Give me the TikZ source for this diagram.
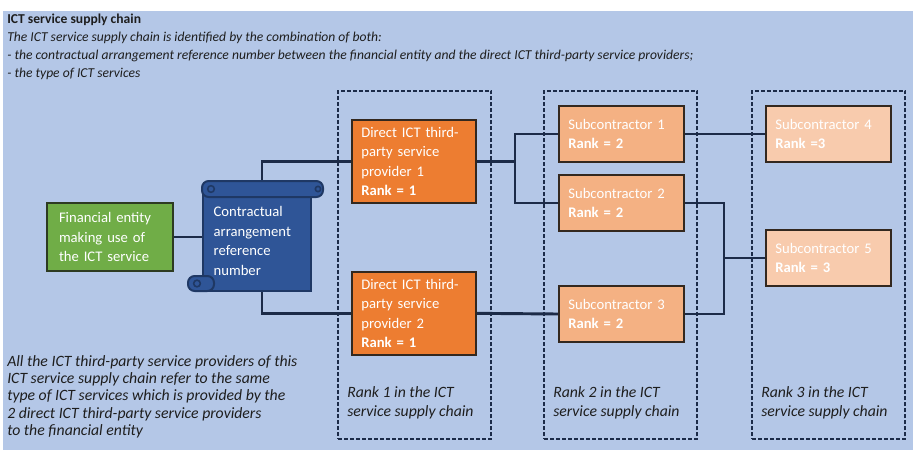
\documentclass[tikz,border=0pt]{standalone}
\usepackage{fontspec}
\setmainfont{Carlito}
\usetikzlibrary{positioning}
\definecolor{bgblue}{HTML}{B4C7E7}
\definecolor{linkcol}{HTML}{1C2B48}
\definecolor{edgecol}{HTML}{33281F}
\definecolor{finedge}{HTML}{2D3B22}
\definecolor{fingreen}{HTML}{70AD47}
\definecolor{scrollblue}{HTML}{2F5597}
\definecolor{scrolledge}{HTML}{1F3864}
\definecolor{dporange}{HTML}{ED7D31}
\definecolor{subtwo}{HTML}{F4B183}
\definecolor{subthree}{HTML}{F8CBAD}
\definecolor{inktext}{HTML}{1E1E1E}

\tikzset{
  cbox/.style={draw=edgecol, line width=1.5pt, text=white, align=left, anchor=north west,
    inner xsep=7pt, font=\fontsize{11}{14.6}\selectfont},
  dpbox/.style={cbox, fill=dporange, minimum width=93pt, minimum height=62pt, text width=79pt},
  subbox/.style={cbox, fill=#1, minimum width=94pt, minimum height=42pt, text width=80pt},
  link/.style={draw=linkcol, line width=2.2pt},
  rankbox/.style={draw=linkcol, line width=1.5pt, dash pattern=on 3pt off 1.5pt,
    minimum width=115pt, minimum height=261pt, anchor=north west},
  note/.style={text=inktext, inner sep=0pt, align=left, font=\fontsize{10.2}{13.5}\selectfont\itshape},
}

\begin{document}
\begin{tikzpicture}[x=0.75pt, y=-0.75pt]
  \useasboundingbox (0,0) rectangle (913,450);
  \fill[white] (0,0) rectangle (913,450);
  \fill[bgblue] (3,11) rectangle (913,450);

  % header
  \node[note, anchor=west, font=\fontsize{10.2}{13.5}\selectfont\bfseries] (title) at (7,20) {ICT service supply chain};
  \foreach \t [count=\i] in {{The ICT service supply chain is identified by the combination of both:},
      {- the contractual arrangement reference number between the financial entity and the direct ICT third-party service providers;},
      {- the type of ICT services}}
    \node[note, anchor=west] (hdr\i) at (7,{20+18*\i}) {\t};

  % rank columns
  \foreach \x/\r in {337/1, 543/2, 751/3}{
    \node[rankbox] (col\r) at (\x,90) {};
    \node[note, anchor=west, font=\fontsize{11.8}{14.3}\selectfont\itshape] (collab\r) at (\x+10,402.5)
      {Rank \r\ in the ICT\\service supply chain};
  }

  \node[note, anchor=north west, font=\fontsize{11.8}{13}\selectfont\itshape] (footnote) at (7,355)
    {All the ICT third-party service providers of this\\ICT service supply chain refer to the same\\type of ICT services which is provided by the\\2 direct ICT third-party service providers\\to the financial entity};

  % boxes
  \node[cbox, fill=fingreen, draw=finedge, inner xsep=9pt, minimum width=94.5pt, minimum height=51pt, text width=76.5pt]
    (fin) at (46,202) {Financial entity\\making use of\\the ICT service};
  \node[cbox, fill=scrollblue, draw=scrolledge, inner xsep=8pt, minimum width=81pt, minimum height=75pt, text width=65pt]
    (scroll) at (202,190) {Contractual\\arrangement\\reference\\number};
  \node[dpbox] (dp1) at (351,119) {Direct ICT third-\\party service\\provider 1\\\textbf{Rank = 1}};
  \node[dpbox] (dp2) at (351,271) {Direct ICT third-\\party service\\provider 2\\\textbf{Rank = 1}};
  \node[subbox=subtwo] (sub1) at (558,105) {Subcontractor 1\\\textbf{Rank = 2}};
  \node[subbox=subtwo] (sub2) at (558,174) {Subcontractor 2\\\textbf{Rank = 2}};
  \node[subbox=subtwo] (sub3) at (558,285) {Subcontractor 3\\\textbf{Rank = 2}};
  \node[subbox=subthree] (sub4) at (765,105) {Subcontractor 4\\\textbf{Rank =3}};
  \node[subbox=subthree] (sub5) at (765,229) {Subcontractor 5\\\textbf{Rank = 3}};

  % links
  \coordinate (j1) at (515,0);
  \coordinate (j2) at (724,0);
  \draw[link] (fin.east) -- (fin.east -| scroll.west);
  \draw[link] ([xshift=3.75pt]scroll.north) |- (dp1.west);
  \draw[link] ([xshift=3.75pt]scroll.south) |- (dp2.west);
  \draw[link] (dp1.east) -- (dp1.east -| j1);
  \draw[link] (sub1.west) -| (j1 |- sub2.west) -- (sub2.west);
  \draw[link] (dp2.east) -- (sub3.west);
  \draw[link] (sub1.east) -- (sub1.east -| sub4.west);
  \draw[link] (sub2.east) -| (j2 |- sub3.east) -- (sub3.east);
  \draw[link] (j2 |- sub5.west) -- (sub5.west);

  % scroll rolls
  \begin{scope}[shift={(scroll.north west)}]
    \filldraw[fill=scrollblue, draw=scrolledge, line width=1.5pt, rounded corners=5pt] (0,-9) rectangle (121,7);
    \draw[scrolledge, line width=1.2pt] (9,-1) circle (2.5pt) (116,-1) circle (2pt);
    \filldraw[fill=scrollblue, draw=scrolledge, line width=1.5pt, rounded corners=5pt] (-14,86) rectangle (12,101);
    \draw[scrolledge, line width=1.2pt] (-5,93.5) circle (2.5pt);
  \end{scope}
\end{tikzpicture}
\end{document}
